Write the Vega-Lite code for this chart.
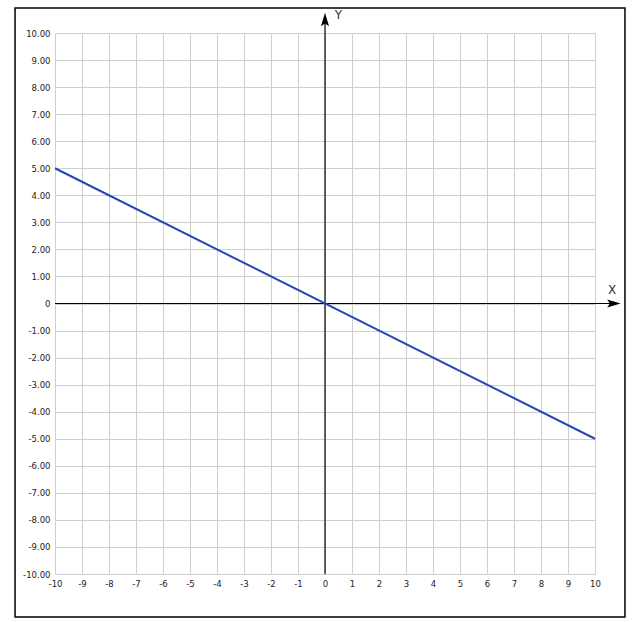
{
  "$schema": "https://vega.github.io/schema/vega-lite/v6.json",
  "autosize": {"type": "none"},
  "width": 540,
  "height": 541,
  "padding": {"left": 55, "top": 33, "right": 39, "bottom": 48},
  "background": "white",
  "config": {
    "view": {"stroke": null},
    "font": "DejaVu Sans",
    "axis": {
      "grid": true,
      "gridColor": "#cfcfcf",
      "gridWidth": 1,
      "domain": false,
      "ticks": false,
      "labelFontSize": 8.5,
      "labelColor": "#222222",
      "labelFlush": false,
      "labelOverlap": false,
      "labelBound": false,
      "title": null
    }
  },
  "datasets": {
    "frame": [{"x": -11.48, "x2": 11.11, "y": 10.92, "y2": -11.59}],
    "axes": [
      {"x": -10, "x2": 10.7, "y": 0, "y2": 0},
      {"x": 0, "x2": 0, "y": -10, "y2": 10.5}
    ],
    "arrows": [
      {"x": 10.7, "y": 0, "shape": "M1,0L-1,-0.6L-0.6,0L-1,0.6Z"},
      {"x": 0, "y": 10.5, "shape": "M0,-1L0.6,1L0,0.6L-0.6,1Z"}
    ],
    "names": [
      {"x": 10.63, "y": 0.5, "name": "X"},
      {"x": 0.5, "y": 10.67, "name": "Y"}
    ],
    "line": [
      {"x": -10, "y": 5},
      {"x": 10, "y": -5}
    ]
  },
  "encoding": {
    "x": {
      "type": "quantitative",
      "scale": {"domain": [-10, 10], "nice": false, "zero": false},
      "axis": {
        "values": [-10, -9, -8, -7, -6, -5, -4, -3, -2, -1, 0, 1, 2, 3, 4, 5, 6, 7, 8, 9, 10],
        "labelExpr": "'' + datum.value",
        "labelPadding": 5
      }
    },
    "y": {
      "type": "quantitative",
      "scale": {"domain": [-10, 10], "nice": false, "zero": false},
      "axis": {
        "values": [-10, -9, -8, -7, -6, -5, -4, -3, -2, -1, 0, 1, 2, 3, 4, 5, 6, 7, 8, 9, 10],
        "labelExpr": "datum.value == 0 ? '0' : (datum.value < 0 ? '-' : '') + format(abs(datum.value), '.2f')",
        "labelPadding": 5
      }
    }
  },
  "layer": [
    {
      "data": {"name": "frame"},
      "mark": {"type": "rect", "fill": null, "stroke": "#000000", "strokeWidth": 1.5},
      "encoding": {
        "x": {"field": "x", "type": "quantitative"},
        "x2": {"field": "x2"},
        "y": {"field": "y", "type": "quantitative"},
        "y2": {"field": "y2"}
      }
    },
    {
      "data": {"name": "axes"},
      "mark": {"type": "rule", "color": "#000000", "strokeWidth": 1.2},
      "encoding": {
        "x": {"field": "x", "type": "quantitative"},
        "x2": {"field": "x2"},
        "y": {"field": "y", "type": "quantitative"},
        "y2": {"field": "y2"}
      }
    },
    {
      "data": {"name": "arrows"},
      "mark": {"type": "point", "filled": true, "color": "#000000", "size": 180, "opacity": 1},
      "encoding": {
        "x": {"field": "x", "type": "quantitative"},
        "y": {"field": "y", "type": "quantitative"},
        "shape": {"field": "shape", "type": "nominal", "scale": null, "legend": null}
      }
    },
    {
      "data": {"name": "names"},
      "mark": {"type": "text", "fontSize": 12, "color": "#333333", "font": "DejaVu Sans"},
      "encoding": {
        "x": {"field": "x", "type": "quantitative"},
        "y": {"field": "y", "type": "quantitative"},
        "text": {"field": "name"}
      }
    },
    {
      "data": {"name": "line"},
      "mark": {"type": "line", "color": "#2846b4", "strokeWidth": 2},
      "encoding": {
        "x": {"field": "x", "type": "quantitative"},
        "y": {"field": "y", "type": "quantitative"}
      }
    }
  ]
}
